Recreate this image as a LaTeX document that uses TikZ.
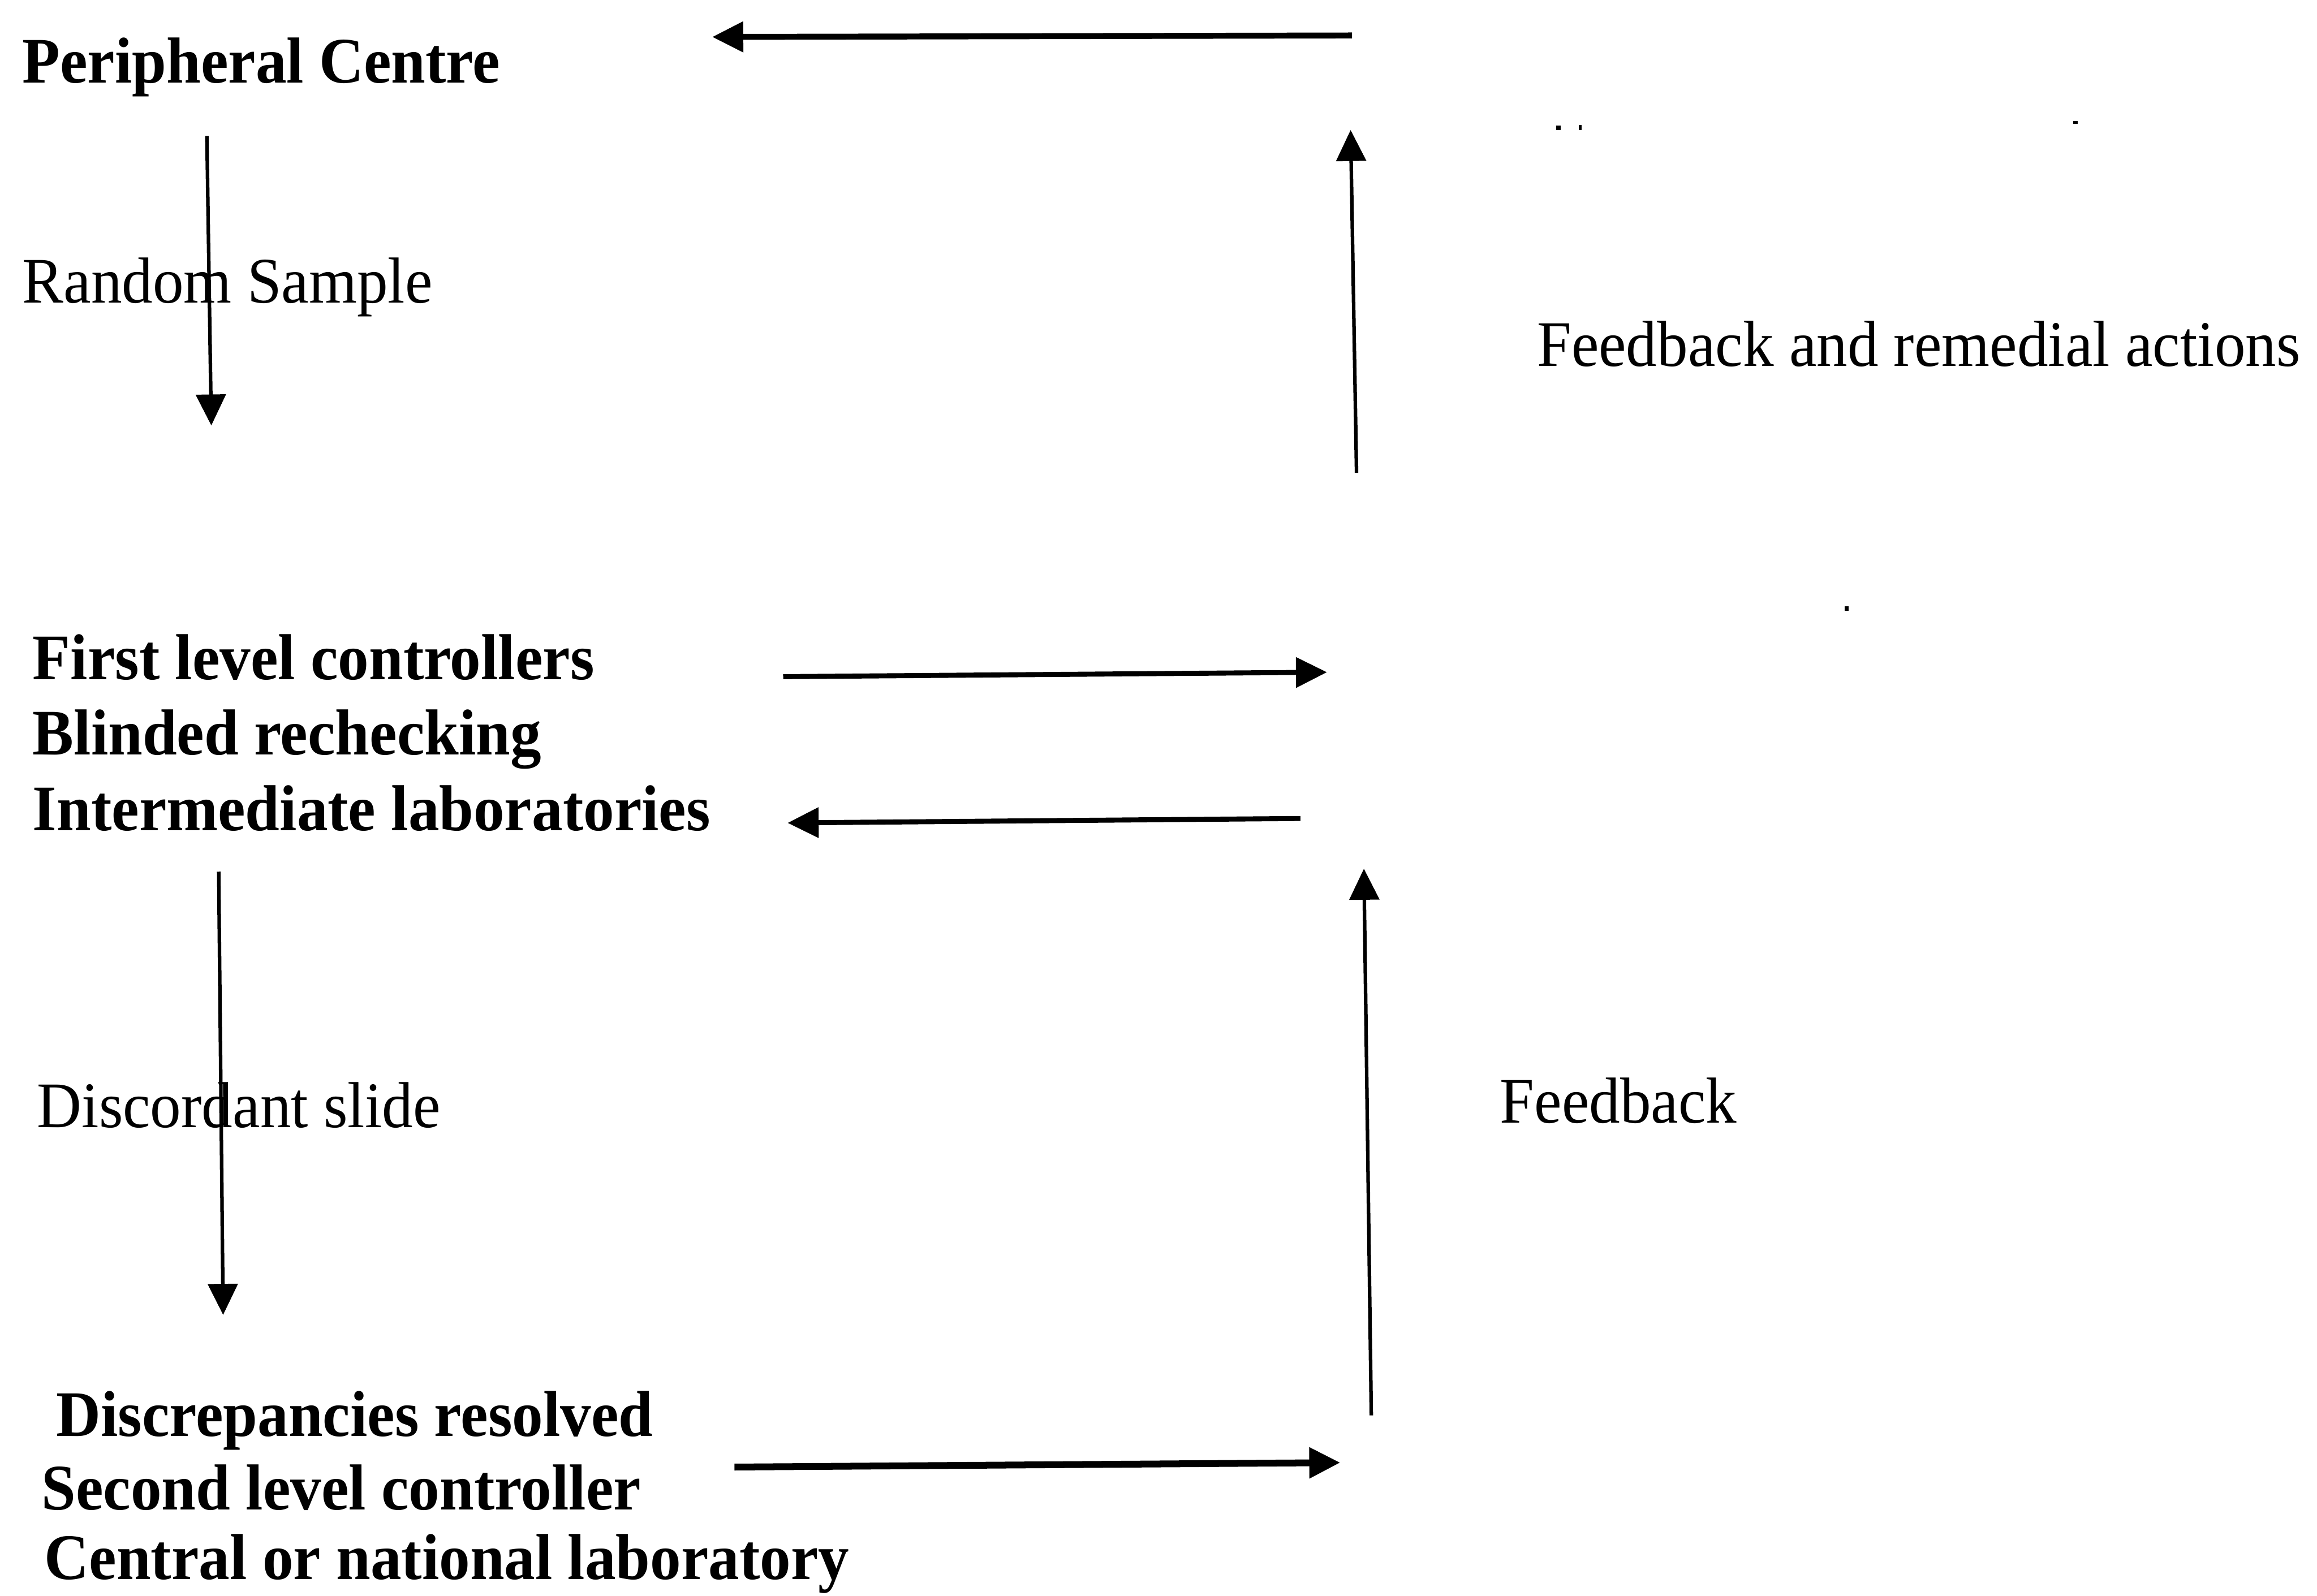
\documentclass[tikz,border=0pt]{standalone}
\usepackage{fontspec}
\setmainfont{Liberation Serif}[FakeStretch=0.95]
\usetikzlibrary{arrows.meta}
\begin{document}
\begin{tikzpicture}[x=1pt,y=-1pt,
  lbl/.style={anchor=base west, inner sep=0pt, font=\fontsize{44}{50}\selectfont},
  blbl/.style={anchor=base west, inner sep=0pt, font=\fontsize{44}{50}\selectfont\bfseries},
  conn/.style={line width=2.4pt, -{Triangle[length=21pt,width=20pt]}},
  hconn/.style={conn, line width=3.4pt},
  speck/.style={fill=black, draw=none}]
\useasboundingbox (0,0) rectangle (1568,1080);

% texts
\node[blbl] (pc) at (15,56) {Peripheral Centre};
\node[lbl] (rs) at (15,205) {Random Sample};
\node[lbl] (fr) at (1040,248) {Feedback and remedial actions};
\node[blbl] (flc) at (22,460) {First level controllers};
\node[blbl] (br) at (22,511) {Blinded rechecking};
\node[blbl] (il) at (22,562) {Intermediate laboratories};
\node[lbl] (ds) at (25,763) {Discordant slide};
\node[lbl] (fb) at (1015,760) {Feedback};
\node[blbl] (dr) at (38,972) {Discrepancies resolved};
\node[blbl] (slc) at (28,1022) {Second level controller};
\node[blbl] (cnl) at (30,1069) {Central or national laboratory};

% connector end points
\coordinate (a1s) at (915,24);  \coordinate (a1e) at (482,25);
\coordinate (a2s) at (140,92);  \coordinate (a2e) at (143,288);
\coordinate (a3s) at (918,320); \coordinate (a3e) at (914,88);
\coordinate (a4s) at (530,458); \coordinate (a4e) at (898,455);
\coordinate (a5s) at (880,554); \coordinate (a5e) at (533,557);
\coordinate (a6s) at (148,590); \coordinate (a6e) at (151,890);
\coordinate (a7s) at (928,958); \coordinate (a7e) at (923,588);
\coordinate (a8s) at (497,993); \coordinate (a8e) at (907,990);

\draw[hconn, line width=4pt] (a1s) -- (a1e);
\draw[conn] (a2s) -- (a2e);
\draw[conn] (a3s) -- (a3e);
\draw[hconn] (a4s) -- (a4e);
\draw[hconn] (a5s) -- (a5e);
\draw[conn] (a6s) -- (a6e);
\draw[conn] (a7s) -- (a7e);
\draw[hconn, line width=4.6pt] (a8s) -- (a8e);

% scan specks
\fill[speck] (1053,85) rectangle (1056,88);
\fill[speck] (1068.5,84.5) rectangle (1070.5,88);
\fill[speck] (1403,82) rectangle (1406,84);
\fill[speck] (1248.5,410.5) rectangle (1251,413.5);
\end{tikzpicture}
\end{document}
